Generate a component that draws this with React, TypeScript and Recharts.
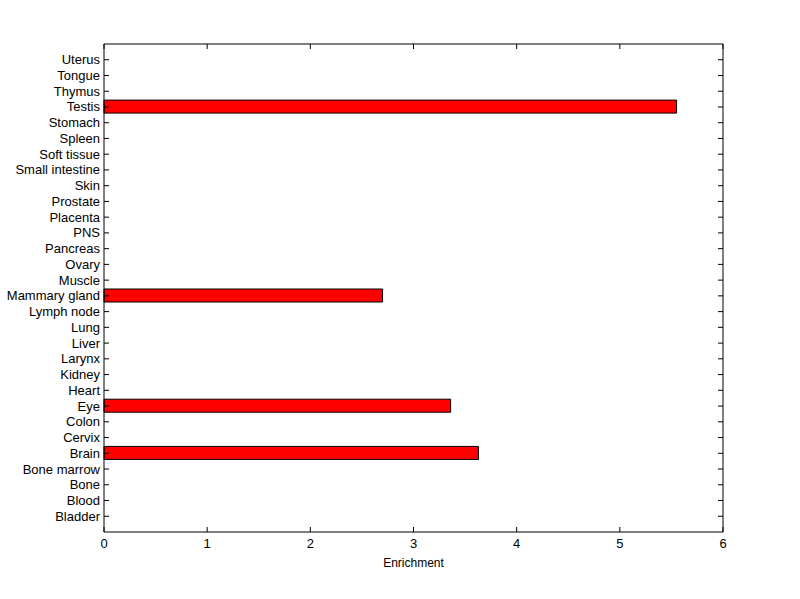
import { BarChart, Bar, XAxis, YAxis, ReferenceLine } from "recharts";

// top to bottom, as drawn
const tissues = [
  "Uterus", "Tongue", "Thymus", "Testis", "Stomach", "Spleen", "Soft tissue",
  "Small intestine", "Skin", "Prostate", "Placenta", "PNS", "Pancreas", "Ovary",
  "Muscle", "Mammary gland", "Lymph node", "Lung", "Liver", "Larynx", "Kidney",
  "Heart", "Eye", "Colon", "Cervix", "Brain", "Bone marrow", "Bone", "Blood", "Bladder",
];
const enrichment = [
  0, 0, 0, 5.55, 0, 0, 0,
  0, 0, 0, 0, 0, 0, 0,
  0, 2.7, 0, 0, 0, 0, 0,
  0, 3.36, 0, 0, 3.63, 0, 0, 0, 0,
];
const xTicks = [0, 1, 2, 3, 4, 5, 6];

const data = tissues.map((name, i) => ({ pos: i + 1, name, value: enrichment[i] }));
const yTicks = data.map((d) => d.pos);

const fontFamily = "Liberation Sans, Arial, sans-serif";
const W = 800;
const H = 599;
const MARGIN = { top: 44, right: 77, left: 0, bottom: 32 };
const PLOT_TOP = MARGIN.top;
const PLOT_RIGHT = W - MARGIN.right;
const TICK = 5;
const LEFT_GAP = 4;
const BOTTOM_GAP = 7;

// MATLAB-style ticks point into the box; each tick also draws its twin on the opposite edge
function LeftTick(props: any) {
  const { x, y, payload } = props;
  return (
    <g>
      <line x1={x + LEFT_GAP} x2={x + LEFT_GAP + TICK} y1={y} y2={y} stroke="#000" />
      <line x1={PLOT_RIGHT} x2={PLOT_RIGHT - TICK} y1={y} y2={y} stroke="#000" />
      <text x={x} y={y} textAnchor="end" dominantBaseline="central" fontFamily={fontFamily} fontSize={13} fill="#000">
        {tissues[payload.value - 1] ?? ""}
      </text>
    </g>
  );
}

function BottomTick(props: any) {
  const { x, y, payload } = props;
  return (
    <g>
      <line x1={x} x2={x} y1={y - BOTTOM_GAP} y2={y - BOTTOM_GAP - TICK} stroke="#000" />
      <line x1={x} x2={x} y1={PLOT_TOP} y2={PLOT_TOP + TICK} stroke="#000" />
      <text x={x} y={y} dy="0.71em" textAnchor="middle" fontFamily={fontFamily} fontSize={13} fill="#000">
        {payload.value}
      </text>
    </g>
  );
}

const line = { stroke: "#000", strokeWidth: 1 };

export default function App() {
  return (
    <div style={{ position: "absolute", left: 0, top: 0, width: W, height: H, background: "#fff" }}>
      <BarChart width={W} height={H} data={data} layout="vertical" margin={MARGIN}>
        <XAxis
          type="number"
          dataKey="value"
          domain={[0, 6]}
          ticks={xTicks}
          height={35}
          tickSize={0}
          tickMargin={BOTTOM_GAP}
          tick={<BottomTick />}
          axisLine={line}
          tickLine={false}
          label={{ value: "Enrichment", position: "insideBottom", offset: 0, style: { fontFamily, fontSize: 12, fill: "#000" } }}
        />
        <YAxis
          type="number"
          dataKey="pos"
          domain={[0, 31]}
          ticks={yTicks}
          interval={0}
          width={104}
          tickSize={0}
          tickMargin={LEFT_GAP}
          tick={<LeftTick />}
          axisLine={line}
          tickLine={false}
        />
        {/* top and right edges of the box */}
        <ReferenceLine y={0} stroke="#000" strokeWidth={1} />
        <ReferenceLine x={6} stroke="#000" strokeWidth={1} />
        <Bar dataKey="value" fill="#ff0000" stroke="#000" strokeWidth={1} barSize={13} isAnimationActive={false} />
      </BarChart>
    </div>
  );
}
